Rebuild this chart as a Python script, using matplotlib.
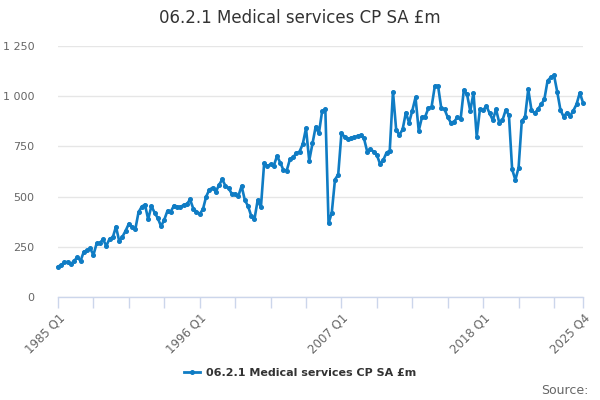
import numpy as np
import matplotlib.pyplot as plt
from matplotlib.lines import Line2D

# quarterly values, 1985 Q1 .. 2025 Q4
values = [
    151, 160, 172, 175, 164, 180, 198, 180, 225, 232, 242, 209,
    267, 270, 287, 254, 290, 297, 350, 279, 300, 330, 365, 350,
    337, 422, 450, 460, 387, 453, 420, 392, 352, 385, 430, 425,
    455, 450, 448, 458, 462, 486, 440, 425, 413, 437, 500, 535,
    544, 524, 558, 586, 553, 541, 513, 513, 503, 553, 483, 453,
    403, 388, 483, 447, 666, 652, 661, 654, 702, 669, 632, 629,
    686, 696, 716, 724, 762, 840, 679, 765, 848, 815, 925, 935,
    367, 420, 585, 610, 815, 798, 785, 793, 795, 802, 805, 790,
    724, 737, 724, 707, 662, 682, 719, 729, 1022, 832, 807, 835,
    918, 868, 928, 994, 828, 895, 898, 940, 948, 1051, 1051, 940,
    935, 895, 868, 873, 895, 885, 1031, 1009, 926, 1017, 798, 935,
    931, 951, 915, 881, 935, 868, 881, 931, 906, 636, 583, 644,
    878, 895, 1034, 931, 915, 935, 960, 984, 1077, 1094, 1104, 1022,
    931, 898, 918, 901, 928, 960, 1017, 968,
]
quarters = [f"{y} Q{q}" for y in range(1985, 2026) for q in range(1, 5)]
y_ticks = [0, 250, 500, 750, 1000, 1250]
y_labels = ["0", "250", "500", "750", "1 000", "1 250"]
series_name = "06.2.1 Medical services CP SA £m"

line_col = "#0f7cc4"
x = np.arange(len(values))

fig = plt.figure(figsize=(6, 4), dpi=100)
ax = fig.add_axes([58 / 600, 1 - 297 / 400, 525 / 600, 251 / 400])

ax.plot(x, values, color=line_col, lw=1.9, marker="o", ms=2.6, zorder=3, clip_on=False)

ax.set_xlim(0, len(values) - 1)
ax.set_ylim(0, 1250)
ax.set_yticks(y_ticks)
ax.set_yticklabels(y_labels, fontsize=8, color="#666666")
ax.tick_params(axis="y", length=0, pad=17)
ax.grid(axis="y", color="#e6e6e6", lw=1)
ax.set_axisbelow(True)

# ticks every 11 quarters, labelled every 44, plus the last quarter
tick_pos = list(range(0, len(values), 11)) + [len(values) - 1]
ax.set_xticks(tick_pos)
lab_pos = [0, 44, 88, 132, len(values) - 1]
ax.set_xticklabels([quarters[p] if p in lab_pos else "" for p in tick_pos],
                   rotation=45, ha="right", rotation_mode="anchor",
                   fontsize=8.5, color="#666666")
ax.tick_params(axis="x", length=8, color="#ccd6eb", width=1, pad=2)

for s in ["top", "right", "left"]:
    ax.spines[s].set_visible(False)
ax.spines["bottom"].set_color("#ccd6eb")
ax.spines["bottom"].set_linewidth(1)

fig.text(0.5, 1 - 18 / 400, series_name, ha="center", va="center",
         fontsize=12, color="#333333")

handle = Line2D([0], [0], color=line_col, lw=2, marker="o", ms=2.6)
fig.legend([handle], [series_name], loc="center", bbox_to_anchor=(0.5, 1 - 373 / 400),
           frameon=False, prop={"size": 8, "weight": "bold"}, handlelength=1.5,
           handletextpad=0.5, labelcolor="#333333")

fig.text(589 / 600, 1 - 390 / 400, "Source:", ha="right", va="center",
         fontsize=9, color="#666666")

fig.savefig("out.png", dpi=100)
